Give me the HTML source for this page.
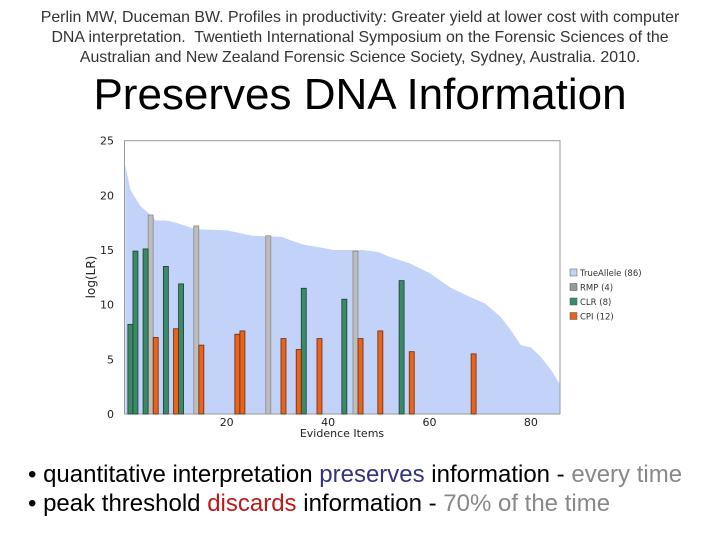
<!DOCTYPE html>
<html><head><meta charset="utf-8"><style>
body{margin:0;width:720px;height:540px;background:#fff;font-family:"Liberation Sans",Arial,sans-serif;position:relative;overflow:hidden}
.hdr{position:absolute;left:0;width:720px;text-align:center;font-size:15.9px;color:#333;line-height:20px;top:8px;white-space:nowrap}
.title{position:absolute;left:0;width:720px;text-align:center;top:70px;font-size:44px;color:#000}
.b{position:absolute;left:28px;font-size:24px;color:#000;white-space:nowrap}
svg{position:absolute;left:0;top:0}
</style></head><body>
<div class="hdr">Perlin MW, Duceman BW. Profiles in productivity: Greater yield at lower cost with computer<br>DNA interpretation.&nbsp; Twentieth International Symposium on the Forensic Sciences of the<br>Australian and New Zealand Forensic Science Society, Sydney, Australia. 2010.</div>
<div class="title">Preserves DNA Information</div>
<svg id="chart" width="720" height="540"></svg>
<div class="b" style="top:461px">• quantitative interpretation <span style="color:#333380">preserves</span> information - <span style="color:#888">every time</span></div>
<div class="b" style="top:490px">• peak threshold <span style="color:#c01818">discards</span> information - <span style="color:#888">70% of the time</span></div>
<script>
const trueItems=[0,1,3,5,6,8,10,12,14,20,22,25,31,32,35,40,41,47,50,52,56,60,64,68,71,74,76,78,80,82,84,86];
const trueValues=[22.8,20.5,19,18.2,17.7,17.7,17.5,17.2,16.9,16.8,16.6,16.3,16.2,16.0,15.5,15.1,15.0,15.0,14.8,14.4,13.8,12.9,11.6,10.7,10.1,8.9,7.7,6.3,6.1,5.2,4.0,2.7];
const rmpItems=[5,14,28.2,45.4];
const rmpValues=[18.2,17.2,16.3,14.9];
const clrItems=[1,2,4,8,11,35.2,43.2,54.5];
const clrValues=[8.2,14.9,15.1,13.5,11.9,11.5,10.5,12.2];
const cpiItems=[6,10,15,22.1,23.1,31.2,34.2,38.3,46.4,50.3,56.5,68.7];
const cpiValues=[7.0,7.8,6.3,7.3,7.6,6.9,5.9,6.9,6.9,7.6,5.7,5.5];
const yTicks=[0,5,10,15,20,25];
const xTicks=[20,40,60,80];
const legendLabels=["TrueAllele (86)","RMP (4)","CLR  (8)","CPI (12)"];
const legendColors=["#c2d2f8","#999","#3a8a68","#e8641c"];

const NS="http://www.w3.org/2000/svg";
const svg=document.getElementById('chart');
const L=124.5,R=560,T=140.7,B=414;
const xs=v=>125.3+5.07*v;
const ys=v=>B-(B-T)*v/25;
function mk(t,a){const e=document.createElementNS(NS,t);for(const k in a)e.setAttribute(k,a[k]);svg.appendChild(e);return e;}

let d=`M${xs(0)},${B}`;
trueItems.forEach((it,i)=>{d+=` L${Math.min(xs(it),R)},${ys(trueValues[i])}`;});
d+=` L${R},${B} Z`;
const area=mk('path',{d:d,fill:'#c2d2f8'});



mk('rect',{x:L,y:T,width:R-L,height:B-T,fill:'none',stroke:'#999','stroke-width':1});

function bars(items,vals,fill,stroke,name){
  items.forEach((it,i)=>{
    const r=mk('rect',{x:xs(it)-2.5,y:ys(vals[i]),width:5,height:B-ys(vals[i]),fill:fill,stroke:stroke,'stroke-width':0.8});
    
    
  });
}
bars(rmpItems,rmpValues,'#bdbdbd','#888','rmp-bar');
bars(clrItems,clrValues,'#3a8a68','#1e3e30','clr-bar');
bars(cpiItems,cpiValues,'#e8641c','#6a2a10','cpi-bar');

yTicks.forEach(v=>{
  const t=mk('text',{x:114,y:ys(v)+4,'text-anchor':'end','font-size':11,fill:'#222','font-family':'DejaVu Sans,sans-serif'});
  t.textContent=v;
  
  
});
xTicks.forEach(v=>{
  const t=mk('text',{x:xs(v),y:426,'text-anchor':'middle','font-size':11,fill:'#222','font-family':'DejaVu Sans,sans-serif'});
  t.textContent=v;
  
  
});
const yt=mk('text',{x:0,y:0,transform:'translate(95,277) rotate(-90)','text-anchor':'middle','font-size':12,fill:'#222','font-family':'DejaVu Sans,sans-serif'});
yt.textContent='log(LR)';


const xt=mk('text',{x:342,y:437,'text-anchor':'middle','font-size':11,fill:'#222','font-family':'DejaVu Sans,sans-serif'});
xt.textContent='Evidence Items';



legendLabels.forEach((lab,i)=>{
  const y=269+i*14.5;
  const r=mk('rect',{x:570,y:y,width:7,height:7,fill:legendColors[i],stroke:'#555','stroke-width':0.5});
  
  
  const t=mk('text',{x:580,y:y+7,'font-size':8.5,fill:'#333','font-family':'DejaVu Sans,sans-serif'});
  t.textContent=lab;
  
  
});
</script>
</body></html>
